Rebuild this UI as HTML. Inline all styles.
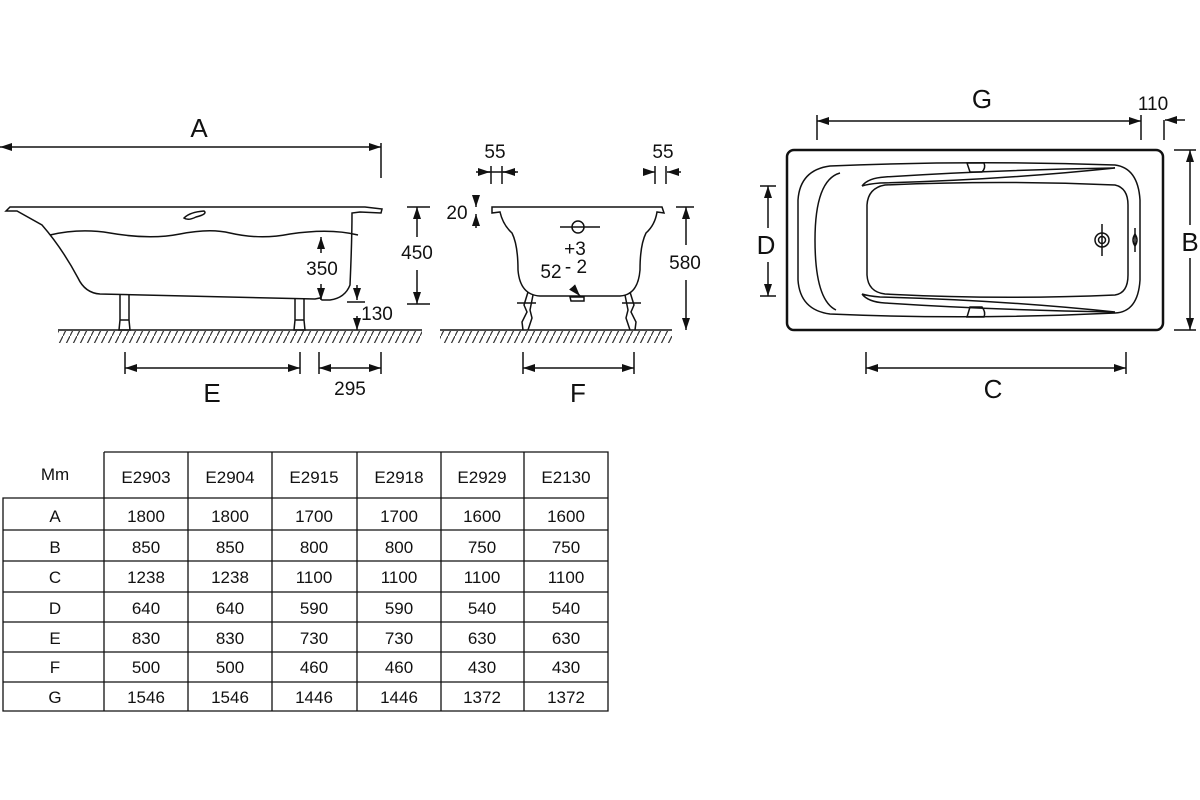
<!DOCTYPE html>
<html><head><meta charset="utf-8"><style>
html,body{margin:0;padding:0;background:#fff;}
svg{display:block;}
text{font-family:"Liberation Sans",Arial,sans-serif;fill:#111;}
</style></head><body>
<svg width="1200" height="800" viewBox="0 0 1200 800" xmlns="http://www.w3.org/2000/svg">
<defs>
<marker id="ae" markerWidth="12" markerHeight="8" refX="12" refY="4" orient="auto" markerUnits="userSpaceOnUse"><path d="M0,0 L12,4 L0,8 Z" fill="#111"/></marker>
<marker id="as" markerWidth="12" markerHeight="8" refX="0" refY="4" orient="auto" markerUnits="userSpaceOnUse"><path d="M12,0 L0,4 L12,8 Z" fill="#111"/></marker>
<pattern id="hatch" width="7" height="14" patternUnits="userSpaceOnUse"><line x1="0" y1="14" x2="7" y2="0" stroke="#333" stroke-width="1.2"/></pattern>
</defs>
<g stroke="#111" stroke-width="1.5" fill="none">
<line x1="58" y1="330" x2="422" y2="330"/>
<rect x="58" y="331" width="364" height="12" fill="url(#hatch)" stroke="none"/>
<line x1="440" y1="330" x2="672" y2="330"/>
<rect x="440" y="331" width="232" height="12" fill="url(#hatch)" stroke="none"/>

<!-- side view -->
<line x1="0" y1="147" x2="381" y2="147" marker-start="url(#as)" marker-end="url(#ae)"/>
<line x1="381" y1="143" x2="381" y2="178"/>
<path d="M6,211 L10,207 L365,207 L382,209 L381,213 L360,212 L352,213 Q352,240 350,285 Q345,298 330,300 L322,300 L320,298 L315,299 L100,294 Q85,293 78,278 Q62,248 42,225 L17,211 Z"/>
<path d="M50,235 Q80,228 110,233 Q150,240 180,234 Q210,228 230,233 Q260,240 290,234 Q330,228 358,235"/>
<path d="M184,218 Q190,212 204,211 Q208,214 196,217 Q188,221 184,218 Z"/>
<path d="M120,295 L120,320 M129,295 L129,320 M120,320 L129,320 L130,330 L119,330 Z"/>
<path d="M295,298 L295,320 M304,298 L304,320 M295,320 L304,320 L305,330 L294,330 Z"/>
<line x1="321" y1="253" x2="321" y2="237" marker-end="url(#ae)"/>
<line x1="321" y1="284" x2="321" y2="300" marker-end="url(#ae)"/>
<line x1="357" y1="285" x2="357" y2="300" marker-end="url(#ae)"/>
<line x1="347" y1="302" x2="365" y2="302"/>
<line x1="357" y1="316" x2="357" y2="330" marker-end="url(#ae)"/>
<line x1="407" y1="207" x2="430" y2="207"/><line x1="407" y1="304" x2="430" y2="304"/>
<line x1="417" y1="237" x2="417" y2="207" marker-end="url(#ae)"/>
<line x1="417" y1="270" x2="417" y2="304" marker-end="url(#ae)"/>
<line x1="125" y1="352" x2="125" y2="374"/><line x1="300" y1="352" x2="300" y2="374"/>
<line x1="125" y1="368" x2="300" y2="368" marker-start="url(#as)" marker-end="url(#ae)"/>
<line x1="319" y1="352" x2="319" y2="374"/><line x1="381" y1="352" x2="381" y2="374"/>
<line x1="319" y1="368" x2="381" y2="368" marker-start="url(#as)" marker-end="url(#ae)"/>

<!-- end view -->
<path d="M492,207 L662,207 L664,213 L657,212 Q655,225 646,233 Q640,245 640,270 Q638,295 620,296 L540,296 Q520,295 518,270 Q518,245 512,233 Q503,225 500,212 L492,213 Z"/>
<line x1="560" y1="227" x2="600" y2="227"/><circle cx="578" cy="227" r="6"/>
<path d="M570,297 L584,297 L584,301 L571,301 Z"/>
<line x1="573" y1="288" x2="580" y2="296" marker-end="url(#ae)"/>
<path d="M528,292 L524,305 L527,312 L522,322 L523,330 M533,295 L530,310 L532,318 L528,330"/>
<path d="M630,292 L634,305 L631,312 L636,322 L635,330 M625,295 L628,310 L626,318 L630,330"/>
<line x1="517" y1="303" x2="536" y2="303"/><line x1="622" y1="303" x2="641" y2="303"/>
<line x1="476" y1="172" x2="518" y2="172"/>
<line x1="478" y1="172" x2="490" y2="172" marker-end="url(#ae)"/><line x1="516" y1="172" x2="503" y2="172" marker-end="url(#ae)"/>
<line x1="491" y1="166" x2="491" y2="184"/><line x1="502" y1="166" x2="502" y2="184"/>
<line x1="643" y1="172" x2="655" y2="172" marker-end="url(#ae)"/><line x1="681" y1="172" x2="667" y2="172" marker-end="url(#ae)"/>
<line x1="655" y1="166" x2="655" y2="184"/><line x1="666" y1="166" x2="666" y2="184"/>
<line x1="476" y1="195" x2="476" y2="207" marker-end="url(#ae)"/>
<line x1="476" y1="228" x2="476" y2="214" marker-end="url(#ae)"/>
<line x1="676" y1="207" x2="694" y2="207"/>
<line x1="686" y1="245" x2="686" y2="207" marker-end="url(#ae)"/>
<line x1="686" y1="280" x2="686" y2="330" marker-end="url(#ae)"/>
<line x1="523" y1="352" x2="523" y2="374"/><line x1="634" y1="352" x2="634" y2="374"/>
<line x1="523" y1="368" x2="634" y2="368" marker-start="url(#as)" marker-end="url(#ae)"/>

<!-- top view -->
<rect x="787" y="150" width="376" height="180" rx="7" stroke-width="2.5"/>
<path d="M830,166 Q970,160 1115,165 Q1138,168 1140,200 L1140,280 Q1138,312 1115,313 Q970,320 830,314 Q800,310 798,280 L798,200 Q800,170 830,166 Z"/>
<path d="M840,173 Q815,180 815,240 Q815,300 836,310"/>
<path d="M862,186 Q868,178 885,177 Q990,170 1115,168 Q1000,180 880,183 Q868,184 862,186"/>
<path d="M862,294 Q868,302 885,303 Q990,310 1115,312 Q1000,300 880,297 Q868,296 862,294"/>
<path d="M885,185 Q1000,180 1115,185 Q1128,188 1128,205 L1128,275 Q1128,293 1115,295 Q1000,300 885,294 Q868,292 867,275 L867,205 Q868,188 885,185 Z"/>
<path d="M967,163 L984,163 Q986,168 982,172 L970,172 Z"/>
<path d="M967,317 L984,317 Q986,312 982,307 L970,307 Z"/>
<circle cx="1102" cy="240" r="7"/><circle cx="1102" cy="240" r="3.5"/>
<line x1="1102" y1="224" x2="1102" y2="256"/>
<path d="M1135,234 Q1139,240 1135,246 Q1131,240 1135,234 Z"/>
<line x1="1135" y1="228" x2="1135" y2="252"/>
<line x1="817" y1="115" x2="817" y2="140"/><line x1="1141" y1="115" x2="1141" y2="140"/>
<line x1="817" y1="121" x2="1141" y2="121" marker-start="url(#as)" marker-end="url(#ae)"/>
<line x1="1164" y1="120" x2="1164" y2="140"/>
<line x1="1185" y1="120" x2="1165" y2="120" marker-end="url(#ae)"/>
<line x1="1174" y1="150" x2="1196" y2="150"/><line x1="1174" y1="330" x2="1196" y2="330"/>
<line x1="1190" y1="225" x2="1190" y2="150" marker-end="url(#ae)"/>
<line x1="1190" y1="258" x2="1190" y2="330" marker-end="url(#ae)"/>
<line x1="760" y1="186" x2="776" y2="186"/><line x1="760" y1="296" x2="776" y2="296"/>
<line x1="768" y1="228" x2="768" y2="186" marker-end="url(#ae)"/>
<line x1="768" y1="262" x2="768" y2="296" marker-end="url(#ae)"/>
<line x1="866" y1="352" x2="866" y2="374"/><line x1="1126" y1="352" x2="1126" y2="374"/>
<line x1="866" y1="368" x2="1126" y2="368" marker-start="url(#as)" marker-end="url(#ae)"/>
</g>

<g font-size="26" text-anchor="middle">
<text x="199" y="137">A</text><text x="212" y="402">E</text><text x="578" y="402">F</text>
<text x="982" y="108">G</text><text x="993" y="398">C</text><text x="1190" y="251">B</text><text x="766" y="254">D</text>
</g>
<g font-size="19" text-anchor="middle">
<text x="417" y="259">450</text><text x="322" y="275">350</text><text x="377" y="320">130</text>
<text x="350" y="395">295</text><text x="685" y="269">580</text><text x="457" y="219">20</text>
<text x="495" y="158">55</text><text x="663" y="158">55</text><text x="1153" y="110">110</text>
<text x="575" y="255">+3</text><text x="551" y="278">52</text><text x="576" y="273">- 2</text>
</g>

<g stroke="#111" stroke-width="1.3" fill="none">
<path d="M104,452 H608 V711 H3 V498 H608"/>
<line x1="3" y1="530" x2="608" y2="530"/><line x1="3" y1="561" x2="608" y2="561"/>
<line x1="3" y1="592" x2="608" y2="592"/><line x1="3" y1="622" x2="608" y2="622"/>
<line x1="3" y1="652" x2="608" y2="652"/><line x1="3" y1="682" x2="608" y2="682"/>
<line x1="104" y1="452" x2="104" y2="711"/><line x1="188" y1="452" x2="188" y2="711"/>
<line x1="272" y1="452" x2="272" y2="711"/><line x1="357" y1="452" x2="357" y2="711"/>
<line x1="441" y1="452" x2="441" y2="711"/><line x1="524" y1="452" x2="524" y2="711"/>
</g>
<g font-size="17" text-anchor="middle">
<text x="55" y="480">Mm</text>
<text x="146" y="483">E2903</text><text x="230" y="483">E2904</text><text x="314" y="483">E2915</text><text x="399" y="483">E2918</text><text x="482" y="483">E2929</text><text x="566" y="483">E2130</text>
<text x="55" y="522">A</text><text x="146" y="522">1800</text><text x="230" y="522">1800</text><text x="314" y="522">1700</text><text x="399" y="522">1700</text><text x="482" y="522">1600</text><text x="566" y="522">1600</text>
<text x="55" y="553">B</text><text x="146" y="553">850</text><text x="230" y="553">850</text><text x="314" y="553">800</text><text x="399" y="553">800</text><text x="482" y="553">750</text><text x="566" y="553">750</text>
<text x="55" y="583">C</text><text x="146" y="583">1238</text><text x="230" y="583">1238</text><text x="314" y="583">1100</text><text x="399" y="583">1100</text><text x="482" y="583">1100</text><text x="566" y="583">1100</text>
<text x="55" y="614">D</text><text x="146" y="614">640</text><text x="230" y="614">640</text><text x="314" y="614">590</text><text x="399" y="614">590</text><text x="482" y="614">540</text><text x="566" y="614">540</text>
<text x="55" y="644">E</text><text x="146" y="644">830</text><text x="230" y="644">830</text><text x="314" y="644">730</text><text x="399" y="644">730</text><text x="482" y="644">630</text><text x="566" y="644">630</text>
<text x="55" y="673">F</text><text x="146" y="673">500</text><text x="230" y="673">500</text><text x="314" y="673">460</text><text x="399" y="673">460</text><text x="482" y="673">430</text><text x="566" y="673">430</text>
<text x="55" y="703">G</text><text x="146" y="703">1546</text><text x="230" y="703">1546</text><text x="314" y="703">1446</text><text x="399" y="703">1446</text><text x="482" y="703">1372</text><text x="566" y="703">1372</text>
</g>
</svg>
</body></html>
